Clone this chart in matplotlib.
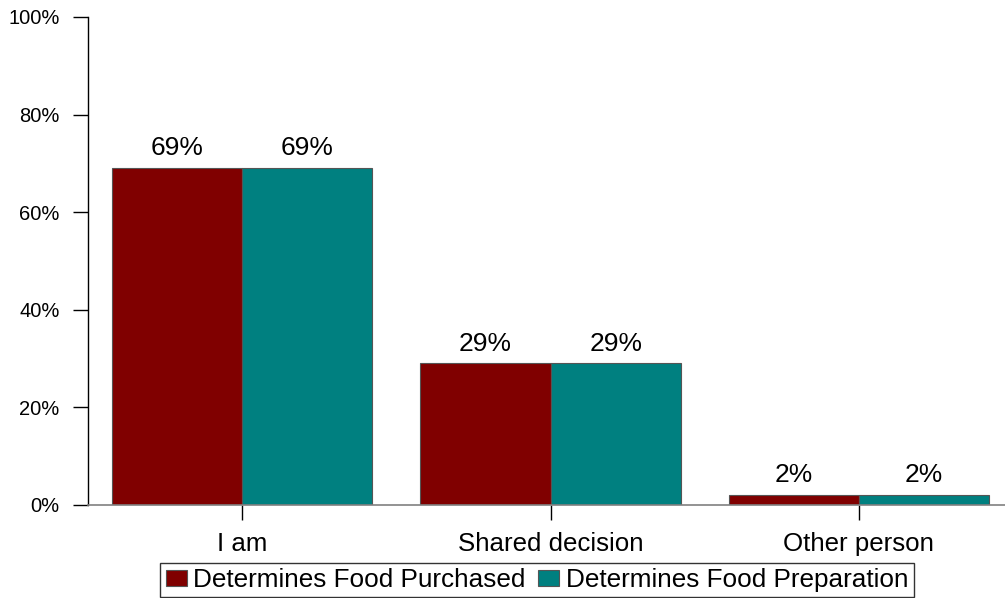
import numpy as np
import matplotlib.pyplot as plt
from matplotlib.ticker import PercentFormatter

plt.rcParams['font.family'] = ['Liberation Sans', 'DejaVu Sans']

categories = ['I am', 'Shared decision', 'Other person']
purchased = [69, 29, 2]
preparation = [69, 29, 2]
series_names = ['Determines Food Purchased', 'Determines Food Preparation']
colors = ['#800000', '#008080']

fig = plt.figure(figsize=(10.05, 5.98), dpi=100)
ax = fig.add_axes([88 / 1005, 93 / 598, 925 / 1005, 488 / 598])

x = np.arange(len(categories))
w = 0.4225
bars1 = ax.bar(x - w / 2, purchased, w, color=colors[0], edgecolor='#555555',
               linewidth=0.8, label=series_names[0])
bars2 = ax.bar(x + w / 2, preparation, w, color=colors[1], edgecolor='#555555',
               linewidth=0.8, label=series_names[1])

for bars, vals in [(bars1, purchased), (bars2, preparation)]:
    for b, v in zip(bars, vals):
        ax.text(b.get_x() + b.get_width() / 2, v + 1.6, f'{v}%',
                ha='center', va='bottom', fontsize=19)

ax.set_xlim(-0.5, 2.5)
ax.set_ylim(0, 100)
ax.set_yticks(range(0, 101, 20))
ax.yaxis.set_major_formatter(PercentFormatter(decimals=0))
ax.set_xticks(x)
ax.set_xticklabels(categories, fontsize=18.6)

ax.spines['top'].set_visible(False)
ax.spines['right'].set_visible(False)
ax.spines['left'].set_color('black')
ax.spines['bottom'].set_color('#808080')
ax.spines['left'].set_linewidth(1.0)
ax.spines['bottom'].set_linewidth(1.2)

ax.tick_params(axis='y', direction='out', length=10.5, width=1, pad=10,
               labelsize=14.5, color='black')
ax.tick_params(axis='x', direction='out', length=10.5, width=1, pad=9,
               color='black')

leg = fig.legend(handles=[bars1, bars2], loc='upper center',
                 bbox_to_anchor=(537 / 1005, 1 - 563 / 598), ncol=2,
                 fontsize=18.8, frameon=True, fancybox=False,
                 edgecolor='black', borderpad=0.2, handlelength=0.8,
                 handleheight=0.6, handletextpad=0.25, columnspacing=0.5,
                 borderaxespad=0)
leg.get_frame().set_linewidth(1.0)

fig.savefig('out.png', dpi=100)
